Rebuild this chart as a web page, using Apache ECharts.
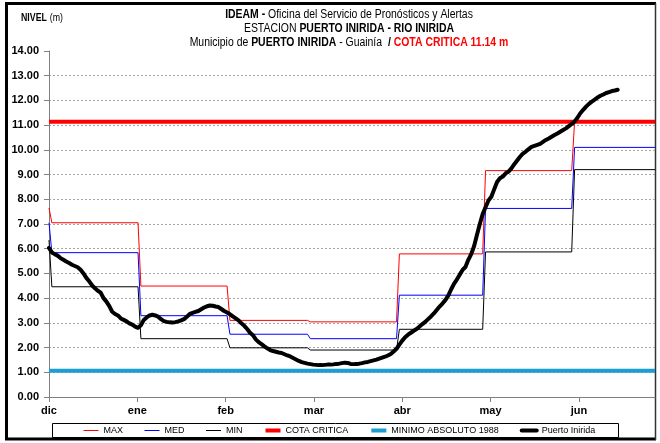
<!DOCTYPE html>
<html>
<head>
<meta charset="utf-8">
<script src="https://cdn.jsdelivr.net/npm/echarts@6/dist/echarts.min.js"></script>
<style>
  html, body { margin: 0; padding: 0; background: #fff; }
  #chart { width: 660px; height: 443px; }
</style>
</head>
<body>
<div id="chart"></div>
<script>
// Day index 0 = 30 nov; the axis runs to 30 jun.
const monthLabels = ['dic', 'ene', 'feb', 'mar', 'abr', 'may', 'jun'];
const monthTickStep = 30.75;
const axisEndDay = 211;

// First day index of each period: nov (last day), dic, ene, feb, mar, abr, may, jun
const periodStart = [0, 1, 32, 63, 91, 122, 152, 183];

// Historical monthly levels (m)
const nivelMax = [7.65, 7.05, 4.49, 3.10, 3.04, 5.79, 9.16, 11.15];
const nivelMed = [7.05, 5.84, 3.29, 2.54, 2.36, 4.12, 7.63, 10.10];
const nivelMin = [6.35, 4.46, 2.36, 1.99, 1.90, 2.74, 5.87, 9.20];

const cotaCritica = 11.14;
const minimoAbsoluto1988 = 1.06;

// Daily level at Puerto Inírida (m), from day 0
const nivelPuertoInirida = [
  6.03, 5.85, 5.78, 5.72, 5.62, 5.55, 5.48, 5.42, 5.35, 5.30,
  5.25, 5.15, 5.00, 4.82, 4.68, 4.52, 4.40, 4.30, 4.22, 4.00,
  3.86, 3.68, 3.45, 3.36, 3.30, 3.18, 3.12, 3.06, 2.98, 2.93,
  2.85, 2.80, 2.90, 3.12, 3.22, 3.30, 3.33, 3.30, 3.25, 3.15,
  3.07, 3.04, 3.02, 3.01, 3.03, 3.06, 3.10, 3.15, 3.25, 3.36,
  3.40, 3.44, 3.48, 3.55, 3.62, 3.67, 3.70, 3.69, 3.66, 3.64,
  3.56, 3.48, 3.42, 3.35, 3.26, 3.18, 3.10, 2.98, 2.88, 2.75,
  2.60, 2.50, 2.33, 2.22, 2.14, 2.05, 1.97, 1.90, 1.86, 1.83,
  1.80, 1.78, 1.73, 1.68, 1.64, 1.58, 1.52, 1.46, 1.41, 1.38,
  1.35, 1.33, 1.31, 1.30, 1.29, 1.29, 1.30, 1.31, 1.31, 1.32,
  1.34, 1.35, 1.37, 1.39, 1.38, 1.34, 1.33, 1.34, 1.35, 1.37,
  1.40, 1.42, 1.45, 1.48, 1.51, 1.55, 1.59, 1.63, 1.68, 1.74,
  1.84, 1.95, 2.12, 2.28, 2.42, 2.52, 2.60, 2.68, 2.75, 2.85,
  2.95, 3.04, 3.15, 3.26, 3.38, 3.52, 3.66, 3.78, 3.92, 4.10,
  4.35, 4.58, 4.75, 4.95, 5.14, 5.26, 5.55, 5.78, 6.10, 6.55,
  7.00, 7.40, 7.68, 7.95, 8.10, 8.40, 8.70, 8.85, 8.92, 9.05,
  9.12, 9.25, 9.42, 9.57, 9.72, 9.85, 9.93, 10.03, 10.12, 10.16,
  10.20, 10.24, 10.32, 10.40, 10.46, 10.53, 10.60, 10.66, 10.73, 10.80,
  10.87, 10.96, 11.05, 11.15, 11.30, 11.48, 11.62, 11.75, 11.86, 11.95,
  12.03, 12.12, 12.19, 12.24, 12.30, 12.34, 12.38, 12.40, 12.43
];

const SANS = "'Liberation Sans', Arial, sans-serif";

// Each period value is held from its first day to the day before the next period
function stepPoints(values) {
  const pts = [];
  values.forEach((v, i) => {
    const s = periodStart[i];
    const e = i + 1 < periodStart.length ? periodStart[i + 1] - 1 : axisEndDay;
    pts.push([s, v]);
    if (e > s) pts.push([e, v]);
  });
  return pts;
}

function flatLine(v) {
  return [[0, v], [axisEndDay, v]];
}

// legend entry: plain line sample, no marker
function legendEntry(name, width) {
  return { name: name, lineStyle: { width: width }, itemStyle: { opacity: 0 } };
}

const chart = echarts.init(document.getElementById('chart'), null, { renderer: 'canvas' });

chart.setOption({
  animation: false,
  backgroundColor: '#ffffff',
  grid: { left: 49, right: 5, top: 51, bottom: 46, containLabel: false },
  legend: {
    left: 83,
    top: 426,
    padding: 0,
    itemWidth: 15,
    itemHeight: 4,
    itemGap: 21,
    selectedMode: false,
    textStyle: { fontFamily: SANS, fontSize: 9, color: '#000' },
    data: [
      legendEntry('MAX', 1),
      legendEntry('MED', 1),
      legendEntry('MIN', 1),
      legendEntry('COTA CRITICA', 4),
      legendEntry('MINIMO ABSOLUTO 1988', 4),
      legendEntry('Puerto Inirida', 4)
    ]
  },
  xAxis: {
    type: 'value',
    min: 0,
    max: axisEndDay,
    interval: monthTickStep,
    axisLine: { lineStyle: { color: '#808080', width: 1 } },
    axisTick: { show: true, length: 5, inside: false, lineStyle: { color: '#808080' } },
    axisLabel: {
      margin: 8,
      fontFamily: SANS,
      fontSize: 11,
      fontWeight: 'bold',
      color: '#000',
      showMaxLabel: false,
      formatter: function (v) {
        const k = Math.round(v / monthTickStep);
        return Math.abs(v - k * monthTickStep) < 0.01 && k < monthLabels.length ? monthLabels[k] : '';
      }
    },
    splitLine: { show: false }
  },
  yAxis: {
    type: 'value',
    min: 0,
    max: 14,
    interval: 1,
    axisLine: { show: true, lineStyle: { color: '#808080', width: 1 } },
    axisTick: { show: true, length: 5, inside: false, lineStyle: { color: '#808080' } },
    axisLabel: {
      margin: 10,
      fontFamily: SANS,
      fontSize: 11,
      fontWeight: 'bold',
      color: '#000',
      formatter: v => v.toFixed(2)
    },
    splitLine: {
      show: true,
      showMinLine: false,
      showMaxLine: false,
      lineStyle: { color: '#a6a6a6', width: 1, type: [2, 2] }
    }
  },
  series: [
    {
      name: 'MAX', type: 'line', symbol: 'none', data: stepPoints(nivelMax),
      lineStyle: { color: '#ff0000', width: 1 }, itemStyle: { color: '#ff0000' }
    },
    {
      name: 'MED', type: 'line', symbol: 'none', data: stepPoints(nivelMed),
      lineStyle: { color: '#0000ff', width: 1 }, itemStyle: { color: '#0000ff' }
    },
    {
      name: 'MIN', type: 'line', symbol: 'none', data: stepPoints(nivelMin),
      lineStyle: { color: '#000000', width: 1 }, itemStyle: { color: '#000000' }
    },
    {
      name: 'COTA CRITICA', type: 'line', symbol: 'none', data: flatLine(cotaCritica),
      lineStyle: { color: '#ff0000', width: 4 }, itemStyle: { color: '#ff0000' }
    },
    {
      name: 'MINIMO ABSOLUTO 1988', type: 'line', symbol: 'none', data: flatLine(minimoAbsoluto1988),
      lineStyle: { color: '#1b9fd3', width: 4 }, itemStyle: { color: '#1b9fd3' }
    },
    {
      name: 'Puerto Inirida', type: 'line', symbol: 'none',
      data: nivelPuertoInirida.map((v, d) => [d, v]),
      lineStyle: { color: '#000000', width: 4, join: 'round', cap: 'round' },
      itemStyle: { color: '#000000' }
    }
  ],
  graphic: [
    // outer frame
    { type: 'polyline', silent: true,
      shape: { points: [[656, 3.5], [6.5, 3.5], [6.5, 439], [656, 439]] },
      style: { stroke: '#000', lineWidth: 3, fill: null } },
    { type: 'line', silent: true,
      shape: { x1: 655.5, y1: 3, x2: 655.5, y2: 440 },
      style: { stroke: '#333', lineWidth: 1.5 } },
    // legend box
    { type: 'rect', silent: true, z: -1,
      shape: { x: 52.5, y: 423.5, width: 566, height: 14 },
      style: { stroke: '#000', lineWidth: 1, fill: '#fff' } },
    // chart heading, condensed horizontally
    { type: 'text', silent: true, x: 349, y: 8, scaleX: 0.87, originX: 0,
      style: {
        x: 0, y: 0, align: 'center', verticalAlign: 'top',
        text: '{b|IDEAM -} {n|Oficina del Servicio de Pronósticos y Alertas}\n' +
              '{n|ESTACION }{b|PUERTO INIRIDA - RIO INIRIDA}\n' +
              '{n|Municipio de }{b|PUERTO INIRIDA}{n| - Guainía  }{b|/ }{r|COTA CRITICA 11.14 m}',
        rich: {
          b: { fontFamily: SANS, fontSize: 12, fontWeight: 'bold', fill: '#000', lineHeight: 14, align: 'center' },
          n: { fontFamily: SANS, fontSize: 12, fontWeight: 'normal', fill: '#000', lineHeight: 14, align: 'center' },
          r: { fontFamily: SANS, fontSize: 12, fontWeight: 'bold', fill: '#ff0000', lineHeight: 14, align: 'center' }
        }
      } },
    // axis caption
    { type: 'text', silent: true, x: 21, y: 12, scaleX: 0.88, originX: 0,
      style: {
        x: 0, y: 0,
        text: '{b|NIVEL} {n|(m)}',
        rich: {
          b: { fontFamily: SANS, fontSize: 10, fontWeight: 'bold', fill: '#000' },
          n: { fontFamily: SANS, fontSize: 10, fill: '#000' }
        }
      } }
  ]
});
</script>
</body>
</html>
